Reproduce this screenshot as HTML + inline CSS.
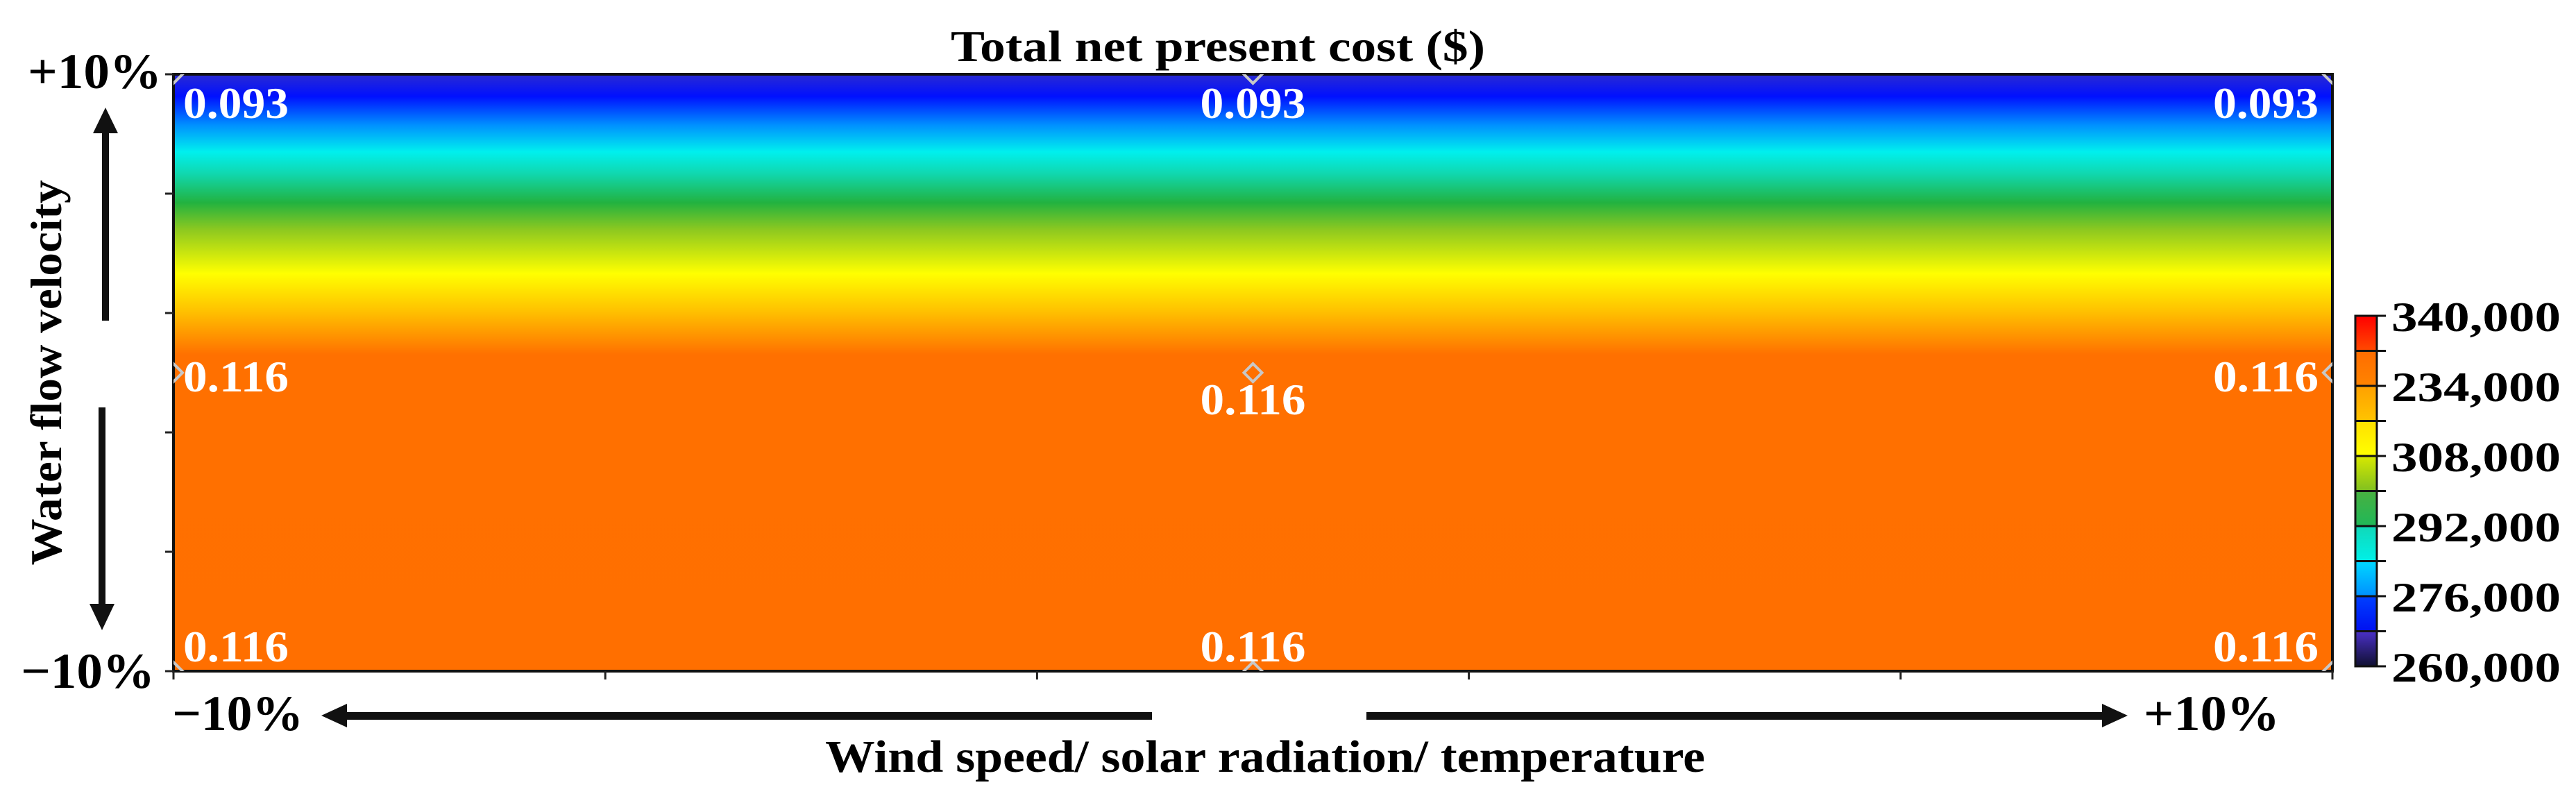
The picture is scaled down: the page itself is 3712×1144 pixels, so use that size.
<!DOCTYPE html>
<html><head><meta charset="utf-8"><style>
html,body{margin:0;padding:0;background:#fff;}
svg{display:block;}
text{font-family:"Liberation Serif",serif;font-weight:bold;}
</style></head><body>
<svg id="chart" width="3712" height="1144" viewBox="0 0 3712 1144" xmlns="http://www.w3.org/2000/svg">
<defs>
<linearGradient id="surf" x1="0" y1="0" x2="0" y2="1">
<stop offset="0" stop-color="#2a2ad2"/>
<stop offset="0.037" stop-color="#0010ff"/>
<stop offset="0.085" stop-color="#0090ff"/>
<stop offset="0.13" stop-color="#00f0ee"/>
<stop offset="0.166" stop-color="#10d8b0"/>
<stop offset="0.215" stop-color="#22b240"/>
<stop offset="0.26" stop-color="#8cc820"/>
<stop offset="0.334" stop-color="#ffff00"/>
<stop offset="0.398" stop-color="#ffc000"/>
<stop offset="0.47" stop-color="#ff7000"/>
<stop offset="1" stop-color="#ff6f00"/>
</linearGradient>
<clipPath id="plotclip"><rect x="250" y="107" width="3111" height="860"/></clipPath>
</defs>
<text x="1755" y="88" text-anchor="middle" font-size="64" textLength="770" lengthAdjust="spacingAndGlyphs">Total net present cost ($)</text>
<rect x="250" y="107" width="3111" height="860" fill="url(#surf)" stroke="#111" stroke-width="4"/>
<g id="ticks"></g>
<g id="markers" clip-path="url(#plotclip)"></g>
<g id="labels"></g>
<!-- y axis -->
<text x="40" y="127" font-size="72" textLength="193" lengthAdjust="spacingAndGlyphs">+10%</text>
<text x="30" y="991" font-size="72" textLength="193" lengthAdjust="spacingAndGlyphs">−10%</text>
<text transform="translate(88,537) rotate(-90)" text-anchor="middle" font-size="64" textLength="555" lengthAdjust="spacingAndGlyphs">Water flow velocity</text>
<g>
<rect x="147" y="180" width="10" height="282" fill="#111"/>
<polygon points="152,155 134,192 170,192" fill="#111"/>
</g>
<g>
<rect x="142" y="587" width="10" height="290" fill="#111"/>
<polygon points="147,908 129,870 165,870" fill="#111"/>
</g>
<!-- x axis -->
<text x="248" y="1052" font-size="72" textLength="189" lengthAdjust="spacingAndGlyphs">−10%</text>
<text x="3089" y="1052" font-size="72" textLength="196" lengthAdjust="spacingAndGlyphs">+10%</text>
<g>
<rect x="490" y="1026" width="1170" height="11" fill="#111"/>
<polygon points="463,1031 500,1014 500,1048" fill="#111"/>
</g>
<g>
<rect x="1969" y="1026" width="1070" height="11" fill="#111"/>
<polygon points="3066,1031 3029,1014 3029,1048" fill="#111"/>
</g>
<text x="1823" y="1112" text-anchor="middle" font-size="66" textLength="1268" lengthAdjust="spacingAndGlyphs">Wind speed/ solar radiation/ temperature</text>
<g id="colorbar"></g>
</svg>
<script>
// Surface data (LCOE values at grid points)
const xCats = [-10, 0, 10];
const yCats = [10, 0, -10];
const rowTop = [0.093, 0.093, 0.093];
const rowMid = [0.116, 0.116, 0.116];
const rowBot = [0.116, 0.116, 0.116];
// Colorbar tick labels (as printed)
const cbLabels = ["340,000", "234,000", "308,000", "292,000", "276,000", "260,000"];
const cbSegColors = [["#ff0000","#ff4a00"],["#ff6c00","#ff8400"],["#ffa000","#ffc400"],["#ffe000","#ffff00"],["#d8e800","#80c020"],["#48b040","#20b858"],["#10d8b8","#00f0e8"],["#00d8ff","#0090ff"],["#0040ff","#0010f0"],["#4a30c8","#101030"]];

const NS = "http://www.w3.org/2000/svg";
const PX0 = 250, PX1 = 3361, PY0 = 107, PY1 = 967;
function xPos(v){ return PX0 + (v - (-10)) / 20 * (PX1 - PX0); }
function yPos(v){ return PY1 - (v - (-10)) / 20 * (PY1 - PY0); }
function mk(tag, attrs, parent){
  const e = document.createElementNS(NS, tag);
  for (const k in attrs) e.setAttribute(k, attrs[k]);
  parent.appendChild(e); return e;
}
// ticks: 5 intervals each axis
const ticks = document.getElementById('ticks');
for (let i = 0; i <= 5; i++){
  const xv = -10 + i * 4, yv = -10 + i * 4;
  const t1 = mk('line', {x1: xPos(xv), x2: xPos(xv), y1: PY1, y2: PY1 + 12, stroke: '#222', 'stroke-width': 3}, ticks);
  
  
  const t2 = mk('line', {x1: PX0 - 12, x2: PX0, y1: yPos(yv), y2: yPos(yv), stroke: '#222', 'stroke-width': 3}, ticks);
  
  
}
// markers and labels
const rows = [rowTop, rowMid, rowBot];
const markers = document.getElementById('markers');
const labels = document.getElementById('labels');
const baseOff = [63, 27, -14];
const midExtra = [0, 33, 0];
rows.forEach((row, ri) => {
  row.forEach((val, ci) => {
    const cx = xPos(xCats[ci]), cy = yPos(yCats[ri]);
    const m = mk('polygon', {points: `${cx},${cy-13} ${cx+13},${cy} ${cx},${cy+13} ${cx-13},${cy}`, fill: 'none', stroke: '#c8c8c8', 'stroke-width': 4}, markers);
    
    
    let anchor = 'middle', x = cx;
    if (ci === 0){ anchor = 'start'; x = cx + 14; }
    if (ci === 2){ anchor = 'end'; x = cx - 20; }
    const y = cy + baseOff[ri] + (ci === 1 ? midExtra[ri] : 0);
    const t = mk('text', {x: x, y: y, 'text-anchor': anchor, 'font-size': 64, fill: '#fff', textLength: 152, lengthAdjust: 'spacingAndGlyphs'}, labels);
    t.textContent = val.toFixed(3);
    
    
  });
});
// colorbar
const cb = document.getElementById('colorbar');
const CBX = 3394, CBW = 31, CBY0 = 455, CBY1 = 960;
const nSeg = cbSegColors.length;
const segH = (CBY1 - CBY0) / nSeg;
const defs = document.querySelector('defs');
cbSegColors.forEach((c, i) => {
  const g = mk('linearGradient', {id: 'cbg' + i, x1: 0, y1: 0, x2: 0, y2: 1}, defs);
  mk('stop', {offset: 0, 'stop-color': c[0]}, g);
  mk('stop', {offset: 1, 'stop-color': c[1]}, g);
  const r = mk('rect', {x: CBX, y: CBY0 + i * segH, width: CBW, height: segH, fill: `url(#cbg${i})`}, cb);
  
  
});
mk('rect', {x: CBX, y: CBY0, width: CBW, height: CBY1 - CBY0, fill: 'none', stroke: '#111', 'stroke-width': 3}, cb);
for (let i = 0; i <= nSeg; i++){
  const l = mk('line', {x1: CBX, x2: CBX + 44, y1: CBY0 + i * segH, y2: CBY0 + i * segH, stroke: '#111', 'stroke-width': 3}, cb);
  
  
}
cbLabels.forEach((lab, i) => {
  const y = CBY0 + (i * 2) * segH + 22;
  const t = mk('text', {x: 3446, y: y, 'font-size': 60, textLength: 244, lengthAdjust: 'spacingAndGlyphs', fill: '#000'}, cb);
  t.textContent = lab;
  
  
});
</script>
</body></html>
